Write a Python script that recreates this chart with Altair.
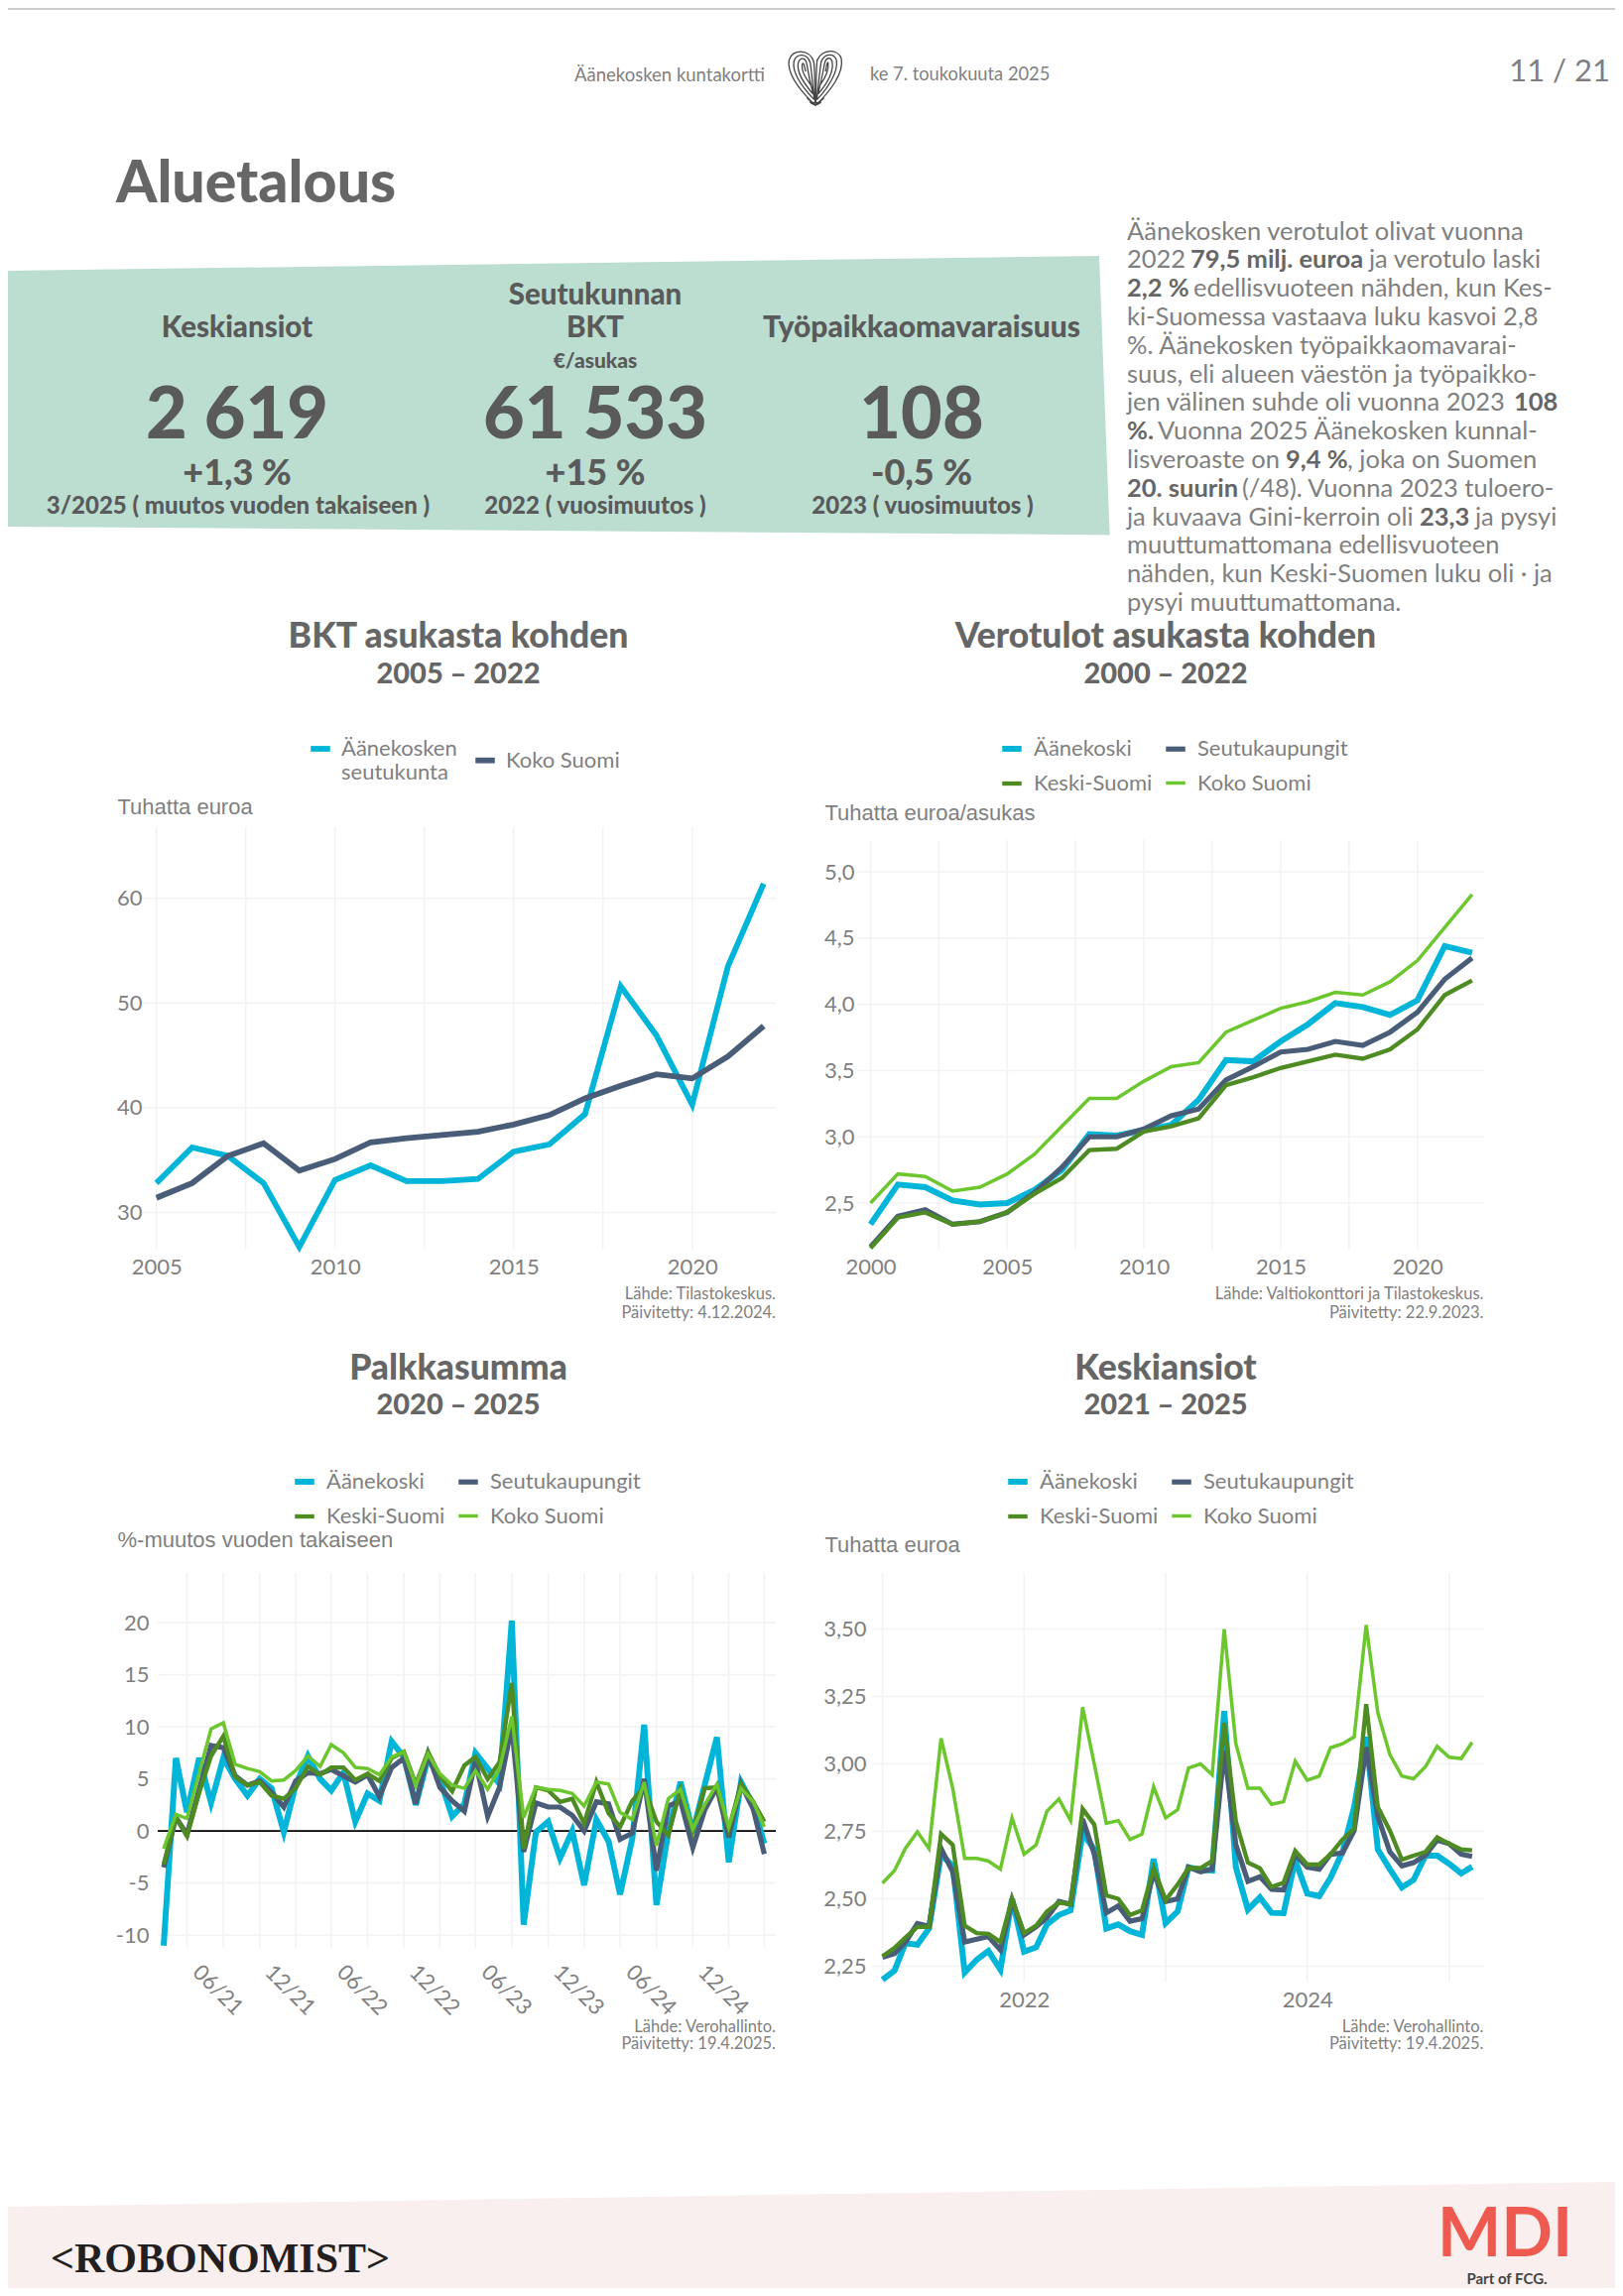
import altair as alt
import pandas as pd

CY, NV, DG, LG = "#00B5D8", "#4A5D78", "#4E8B23", "#6CC72E"
SER = ["Äänekoski", "Seutukaupungit", "Keski-Suomi", "Koko Suomi"]
COLS = [CY, NV, DG, LG]
WID = [6, 3.5, 3, 3]
AX = "#7f7f7f"; DK = "#666666"; GRID = "#F3F3F3"
F = "Lato"

# BKT asukasta kohden
y1 = list(range(2005, 2023))
b_a = [32.8,36.2,35.4,32.8,26.7,33.1,34.5,33.0,33.0,33.2,35.8,36.5,39.4,51.6,46.9,40.3,53.5,61.4]
b_k = [31.4,32.8,35.4,36.6,34.0,35.1,36.7,37.1,37.4,37.7,38.4,39.3,40.9,42.1,43.2,42.8,44.9,47.8]

# Verotulot asukasta kohden
y2 = list(range(2000, 2023))
v_a = [2.34,2.64,2.62,2.52,2.49,2.50,2.60,2.75,3.02,3.01,3.05,3.09,3.28,3.58,3.57,3.72,3.85,4.01,3.98,3.92,4.03,4.44,4.39]
v_s = [2.17,2.40,2.45,2.34,2.36,2.43,2.58,2.77,3.00,3.00,3.06,3.16,3.21,3.43,3.53,3.64,3.66,3.72,3.69,3.79,3.94,4.19,4.35]
v_d = [2.16,2.39,2.43,2.34,2.36,2.43,2.57,2.69,2.90,2.91,3.04,3.08,3.14,3.39,3.45,3.52,3.57,3.62,3.59,3.66,3.81,4.07,4.18]
v_l = [2.50,2.72,2.70,2.59,2.62,2.72,2.87,3.08,3.29,3.29,3.42,3.53,3.56,3.79,3.88,3.97,4.02,4.09,4.07,4.17,4.33,4.58,4.83]

# Kuukaudet 1/2021 - 3/2025
months = [f"{2021 + i // 12}-{i % 12 + 1:02d}-01" for i in range(51)]

# Palkkasumma
p_a = [-11,7.0,1.8,7.0,2.7,7.0,5.0,3.4,5.0,4.1,-0.1,4.4,7.2,5.0,3.9,5.6,0.9,3.6,2.9,8.6,7.1,2.5,7.0,5.0,1.4,2.6,7.5,6.0,4.5,20.2,-9.0,-0.1,0.9,-2.6,0.0,-5.2,1.1,-1.0,-6.1,-0.7,10.2,-7.1,-0.1,4.7,-0.1,4.4,9.0,-3.0,4.7,2.5,-1.2]
p_s = [-3.5,1.3,-0.3,4.0,8.2,8.0,5.3,4.4,4.8,3.7,2.3,4.8,5.6,5.5,5.9,5.3,4.7,5.4,3.3,6.1,7.0,2.6,7.4,4.2,2.9,1.9,6.7,1.4,4.2,10.1,-2.0,2.7,2.3,2.3,1.5,0.0,2.8,2.6,-0.8,-0.2,5.0,-3.8,2.4,2.9,-1.6,2.0,4.2,-0.6,4.5,2.1,-2.2]
p_d = [-3.2,1.3,-0.5,3.7,7.2,9.1,5.2,4.4,4.7,3.4,3.1,4.1,6.2,5.4,6.1,6.1,4.9,5.5,4.8,7.0,7.6,4.5,7.6,5.3,3.8,6.3,7.1,5.0,6.6,14.2,-1.7,4.2,3.9,2.8,3.1,0.7,4.7,1.7,0.4,2.9,4.2,0.9,-0.4,4.0,0.0,4.1,4.2,0.2,4.5,2.8,0.9]
p_l = [-1.7,1.6,1.2,5.6,9.8,10.4,6.4,6.0,5.7,4.8,4.9,5.8,7.2,6.2,8.3,7.5,6.1,6.0,5.4,7.1,7.6,4.4,7.4,5.5,4.4,4.1,5.8,4.0,6.0,11.0,1.3,4.2,4.0,3.9,3.6,2.4,4.7,4.5,1.8,1.1,4.7,-1.4,3.1,4.0,0.2,2.5,4.5,0.4,4.1,2.8,0.4]

# Keskiansiot
k_a = [2.20,2.234,2.335,2.33,2.39,2.665,2.622,2.227,2.274,2.307,2.238,2.50,2.304,2.32,2.405,2.44,2.457,2.744,2.683,2.39,2.405,2.38,2.366,2.648,2.41,2.453,2.617,2.608,2.605,3.196,2.617,2.46,2.505,2.448,2.447,2.643,2.52,2.51,2.578,2.674,2.84,3.10,2.683,2.61,2.542,2.57,2.66,2.66,2.63,2.594,2.619]
k_s = [2.283,2.297,2.339,2.408,2.398,2.687,2.60,2.34,2.35,2.36,2.31,2.495,2.366,2.396,2.43,2.49,2.48,2.796,2.666,2.448,2.474,2.417,2.426,2.596,2.49,2.50,2.617,2.60,2.61,3.05,2.70,2.565,2.582,2.535,2.533,2.665,2.617,2.61,2.665,2.67,2.753,3.062,2.805,2.674,2.622,2.634,2.662,2.718,2.704,2.665,2.657]
k_d = [2.287,2.318,2.356,2.396,2.396,2.74,2.70,2.40,2.373,2.37,2.34,2.50,2.373,2.40,2.453,2.486,2.48,2.833,2.775,2.513,2.50,2.44,2.457,2.614,2.495,2.553,2.614,2.614,2.64,3.153,2.787,2.634,2.613,2.544,2.56,2.678,2.627,2.627,2.665,2.72,2.76,3.222,2.84,2.753,2.645,2.66,2.674,2.728,2.704,2.683,2.68]
k_l = [2.558,2.605,2.687,2.748,2.686,3.095,2.91,2.65,2.65,2.64,2.61,2.80,2.665,2.70,2.825,2.87,2.79,3.21,3.0,2.78,2.79,2.72,2.74,2.915,2.80,2.83,2.985,3.0,2.96,3.50,3.075,2.91,2.91,2.85,2.86,3.01,2.94,2.955,3.06,3.075,3.10,3.515,3.19,3.035,2.955,2.945,2.99,3.065,3.025,3.02,3.08]

# Ruudukot ja akselit
grid1_x = [2005, 2007.5, 2010, 2012.5, 2015, 2017.5, 2020]
grid1_y = [30, 40, 50, 60]
grid2_x = [2000, 2002.5, 2005, 2007.5, 2010, 2012.5, 2015, 2017.5, 2020]
grid2_y = [2.5, 3.0, 3.5, 4.0, 4.5, 5.0]
grid3_x = [f"{2021 + (2 + 3 * i) // 12}-{(2 + 3 * i) % 12 + 1:02d}-01" for i in range(17)]
grid3_y = [-10, -5, 0, 5, 10, 15, 20]
grid4_x = ["2021-01-01", "2022-01-01", "2023-01-01", "2024-01-01", "2025-01-01"]
grid4_y = [2.25, 2.50, 2.75, 3.00, 3.25, 3.50]
DT = lambda y, m, d=1: alt.DateTime(year=y, month=m, date=d)
ticks3 = [DT(2021,6),DT(2021,12),DT(2022,6),DT(2022,12),DT(2023,6),DT(2023,12),DT(2024,6),DT(2024,12)]
ticks4 = [DT(2022,1),DT(2024,1)]

OX, OY = 144, 834


def T(text, x, y, size, color=AX, weight="normal", align="left", font=F):
    return alt.Chart(alt.Data(values=[{"t": text}])).mark_text(
        font=font, fontSize=size, color=color, fontWeight=weight, align=align, baseline="middle"
    ).encode(text="t:N", x=alt.value(x - OX), y=alt.value(y - OY))


def poly(xs, ys, y2s, color):
    d = pd.DataFrame({"px": [v - OX for v in xs], "py": [v - OY for v in ys], "py2": [v - OY for v in y2s]})
    return alt.Chart(d).mark_area(color=color, opacity=1, interpolate="linear").encode(
        x=alt.X("px:Q", scale=None, axis=None),
        y=alt.Y("py:Q", scale=None, axis=None),
        y2=alt.Y2("py2:Q"),
    )


def long(x, series, names=SER):
    return pd.concat([pd.DataFrame({"x": x, "v": s, "s": n}) for s, n in zip(series, names)], ignore_index=True)


def panel(df, xtype, xscale, yscale, xaxis, yaxis, gx, gy, left, w, top, h, names, cols, wid, legend, zero=None):
    X = alt.X(f"x:{xtype}", scale=xscale, axis=xaxis, title=None)
    Y = alt.Y("v:Q", scale=yscale, axis=yaxis, title=None)
    gv = alt.Chart(pd.DataFrame({"x": gx})).mark_rule(color=GRID, strokeWidth=1.6).encode(
        x=X, y=alt.value(top), y2=alt.value(h))
    gh = alt.Chart(pd.DataFrame({"v": gy})).mark_rule(color=GRID, strokeWidth=1.6).encode(
        y=Y, x=alt.value(left), x2=alt.value(w))
    line = alt.Chart(df).mark_line(strokeJoin="miter").encode(
        x=X, y=Y,
        color=alt.Color("s:N", scale=alt.Scale(domain=names, range=cols), legend=legend, sort=names),
        strokeWidth=alt.StrokeWidth("s:N", scale=alt.Scale(domain=names, range=wid), legend=None),
    )
    layers = [gv, gh]
    if zero is not None:
        layers.append(alt.Chart(pd.DataFrame({"v": zero})).mark_rule(color="#000000", strokeWidth=1.6).encode(
            y=Y, x=alt.value(left), x2=alt.value(w)))
    return layers + [line]


def axis_y(expr, vals, pad):
    return alt.Axis(values=vals, grid=False, domain=False, ticks=False, labelExpr=expr, labelFont=F,
                    labelFontSize=22, labelColor=AX, labelPadding=pad, title=None)


def axis_x(vals, pad, **kw):
    return alt.Axis(values=vals, grid=False, domain=False, ticks=False, labelFont=F, labelFontSize=22,
                    labelColor=AX, labelPadding=pad, title=None, labelOverlap=False, **kw)


def leg(x, y, **kw):
    args = dict(title=None, orient="none", legendX=x, legendY=y, direction="horizontal", columns=2,
                symbolType="stroke", symbolSize=380, symbolStrokeWidth=5, labelFont=F, labelFontSize=22,
                labelColor=AX, labelOffset=9, rowPadding=11, columnPadding=2, padding=0, labelLimit=300)
    args.update(kw)
    return alt.Legend(**args)


# ---- page decoration, placed in page coordinates ----
green_x = [8, 1108, 1118.6]
green_top = [273, 258, 539.6]
green_bot = [531, 539.3, 539.6]
foot_x = [8, 1628]
foot_top = [2225, 2200]
foot_bot = [2307, 2307]
top_x = [8, 1628]
top_t = [8, 8]
top_b = [10, 10]

BK = "#5a5a5a"
page = [
    poly(top_x, top_t, top_b, "#CCCCCC"),
    poly(green_x, green_top, green_bot, "#BBDED1"),
    poly(foot_x, foot_top, foot_bot, "#F9EFEE"),
    T("Äänekosken kuntakortti", 579, 76, 18.5),
    T("ke 7. toukokuuta 2025", 877, 76, 18.3),
    T("11 / 21", 1623, 73, 31, align="right"),
    T("Aluetalous", 117, 186, 59, DK, 900),
    T("Keskiansiot", 239, 331, 29.5, BK, 900, "center"),
    T("Seutukunnan", 600, 298, 29.5, BK, 900, "center"),
    T("BKT", 600, 331, 29.5, BK, 900, "center"),
    T("€/asukas", 600, 365, 21, BK, 900, "center"),
    T("Työpaikkaomavaraisuus", 929, 331, 30, BK, 900, "center"),
    T("2 619", 239, 420, 72, BK, 900, "center"),
    T("61 533", 600, 420, 72, BK, 900, "center"),
    T("108", 929, 420, 72, BK, 900, "center"),
    T("+1,3 %", 239, 478, 36, BK, 900, "center"),
    T("+15 %", 600, 478, 36, BK, 900, "center"),
    T("-0,5 %", 929, 478, 36, BK, 900, "center"),
    T("3/2025 ( muutos vuoden takaiseen )", 240, 511, 24, BK, 900, "center"),
    T("2022 ( vuosimuutos )", 600, 511, 24, BK, 900, "center"),
    T("2023 ( vuosimuutos )", 930, 511, 24, BK, 900, "center"),
]
PX = 1136
para = [
    [(PX, "Äänekosken verotulot olivat vuonna", 0)],
    [(PX, "2022", 0), (1200, "79,5 milj. euroa", 1), (1380, "ja verotulo laski", 0)],
    [(PX, "2,2 %", 1), (1203, "edellisvuoteen nähden, kun Kes-", 0)],
    [(PX, "ki-Suomessa vastaava luku kasvoi 2,8", 0)],
    [(PX, "%. Äänekosken työpaikkaomavarai-", 0)],
    [(PX, "suus, eli alueen väestön ja työpaikko-", 0)],
    [(PX, "jen välinen suhde oli vuonna 2023", 0), (1526, "108", 1)],
    [(PX, "%.", 1), (1167, "Vuonna 2025 Äänekosken kunnal-", 0)],
    [(PX, "lisveroaste on", 0), (1296, "9,4 %", 1), (1358, ", joka on Suomen", 0)],
    [(PX, "20. suurin", 1), (1252, "(/48). Vuonna 2023 tuloero-", 0)],
    [(PX, "ja kuvaava Gini-kerroin oli", 0), (1431, "23,3", 1), (1487, "ja pysyi", 0)],
    [(PX, "muuttumattomana edellisvuoteen", 0)],
    [(PX, "nähden, kun Keski-Suomen luku oli · ja", 0)],
    [(PX, "pysyi muuttumattomana.", 0)],
]
for i, runs in enumerate(para):
    for x, s, b in runs:
        page.append(T(s, x, 233.5 + 28.8 * i, 25.5, DK if b else AX, "bold" if b else "normal"))

LIB = "Liberation Sans"
CAP = 16.5
page += [
    T("BKT asukasta kohden", 462, 642, 35.5, DK, 900, "center"),
    T("2005 – 2022", 462, 680, 29, DK, 900, "center"),
    T("Verotulot asukasta kohden", 1175, 642, 35.5, DK, 900, "center"),
    T("2000 – 2022", 1175, 680, 29, DK, 900, "center"),
    T("Palkkasumma", 462, 1380, 35.5, DK, 900, "center"),
    T("2020 – 2025", 462, 1417, 29, DK, 900, "center"),
    T("Keskiansiot", 1175, 1380, 35.5, DK, 900, "center"),
    T("2021 – 2025", 1175, 1417, 29, DK, 900, "center"),
    T("Tuhatta euroa", 118.5, 814, 22, AX, font=LIB),
    T("Tuhatta euroa/asukas", 831.5, 820, 22, AX, font=LIB),
    T("%-muutos vuoden takaiseen", 118.5, 1553, 22, AX, font=LIB),
    T("Tuhatta euroa", 831.5, 1558, 22, AX, font=LIB),
    T("Lähde: Tilastokeskus.", 782, 1305, CAP, align="right"),
    T("Päivitetty: 4.12.2024.", 782, 1323.5, CAP, align="right"),
    T("Lähde: Valtiokonttori ja Tilastokeskus.", 1495.5, 1305, CAP, align="right"),
    T("Päivitetty: 22.9.2023.", 1495.5, 1323.5, CAP, align="right"),
    T("Lähde: Verohallinto.", 782, 2044, CAP, align="right"),
    T("Päivitetty: 19.4.2025.", 782, 2061, CAP, align="right"),
    T("Lähde: Verohallinto.", 1495.5, 2044, CAP, align="right"),
    T("Päivitetty: 19.4.2025.", 1495.5, 2061, CAP, align="right"),
    T("<ROBONOMIST>", 222, 2278, 42, "#231F20", "bold", "center", "Liberation Serif"),
    T("MDI", 1517, 2255, 68, "#EE5A50", "bold", "center"),
    T("Part of FCG.", 1519, 2298, 15, "#444444", "bold", "center"),
]
# sormenjälki
FP = ("M0,0.98 C-0.5,0.5 -1,-0.1 -0.92,-0.6 C-0.82,-1 -0.2,-1 -0.06,-0.55 C0,-0.2 -0.05,0.5 0,0.98 "
      "M-0.04,0.78 C-0.45,0.35 -0.82,-0.15 -0.75,-0.55 C-0.66,-0.85 -0.28,-0.85 -0.18,-0.5 C-0.13,-0.2 -0.1,0.3 -0.04,0.78 "
      "M-0.08,0.58 C-0.4,0.22 -0.66,-0.18 -0.6,-0.5 C-0.53,-0.72 -0.34,-0.7 -0.3,-0.45 C-0.26,-0.2 -0.18,0.2 -0.08,0.58 "
      "M-0.14,0.3 C-0.32,0.05 -0.5,-0.2 -0.46,-0.45 C-0.42,-0.56 -0.38,-0.4 -0.34,-0.2 "
      "M0,0.98 C0.5,0.5 1,-0.15 0.9,-0.65 C0.8,-1 0.25,-1 0.06,-0.6 C0,-0.2 0.05,0.5 0,0.98 "
      "M0.05,0.78 C0.45,0.35 0.8,-0.2 0.73,-0.6 C0.65,-0.85 0.32,-0.85 0.2,-0.55 C0.14,-0.2 0.1,0.3 0.05,0.78 "
      "M0.09,0.58 C0.4,0.22 0.64,-0.22 0.58,-0.55 C0.52,-0.72 0.38,-0.7 0.32,-0.5 C0.27,-0.2 0.18,0.2 0.09,0.58 "
      "M0.14,0.3 C0.32,0.05 0.48,-0.25 0.44,-0.5 C0.42,-0.58 0.38,-0.4 0.35,-0.2 "
      "M-0.2,0.85 C-0.1,0.98 0.1,0.98 0.2,0.85 M-0.3,0.7 C-0.1,0.95 0.1,0.95 0.3,0.7")
page.append(
    alt.Chart(alt.Data(values=[{"a": 1}])).mark_point(
        shape=FP, size=3364, filled=False, stroke="#444444", strokeWidth=1.3, opacity=1
    ).encode(x=alt.value(822 - OX), y=alt.value(78 - OY))
)

# ---- panels ----
YE = "''+datum.value"
C1 = "replace(format(datum.value,'.1f'),'.',',')"
C2 = "replace(format(datum.value,'.2f'),'.',',')"

p1 = panel(long(y1, [b_a, b_k], ["Äänekosken seutukunta", "Koko Suomi"]), "Q",
           alt.Scale(domain=[2004.62, 2022.34], nice=False, zero=False),
           alt.Scale(domain=[26.54, 66.8], nice=False, zero=False),
           axis_x([2005, 2010, 2015, 2020], 8, labelExpr=YE),
           axis_y(YE, grid1_y, 1), grid1_x, grid1_y, 0, 638, 0, 425,
           ["Äänekosken seutukunta", "Koko Suomi"], [CY, NV], [5.8, 5.8],
           leg(166, -92, labelOffset=8, columnPadding=6,
               labelExpr="split(replace(datum.label,'n s','n|s'),'|')"))
c1 = alt.layer(*(page + p1)).properties(width=638, height=425)

p2 = panel(long(y2, [v_a, v_s, v_d, v_l]), "Q",
           alt.Scale(domain=[1999.51, 2022.44], nice=False, zero=False),
           alt.Scale(domain=[2.156, 5.24], nice=False, zero=False, range=[425, 13]),
           axis_x([2000, 2005, 2010, 2015, 2020], 8, labelExpr=YE),
           axis_y(C1, grid2_y, 3), grid2_x, grid2_y, 0, 632, 13, 425,
           SER, COLS, WID, leg(143, -92))
c2 = alt.layer(*p2).properties(width=632, height=425)

p3 = panel(long(months, [p_a, p_s, p_d, p_l]), "T",
           alt.Scale(domain=[DT(2020,12,17), DT(2025,3,30)], range=[15, 638], nice=False),
           alt.Scale(domain=[-11.22, 24.77], nice=False, zero=False),
           axis_x(ticks3, 42, format="%m/%y", labelAngle=45, labelAlign="center", labelBaseline="middle", labelOffset=-6),
           axis_y(YE, grid3_y, -6), grid3_x, grid3_y, 15, 638, 0, 378,
           SER, COLS, WID, leg(150, -105), zero=[0])
c3 = alt.layer(*p3).properties(width=638, height=378)

p4 = panel(long(months, [k_a, k_s, k_d, k_l]), "T",
           alt.Scale(domain=[DT(2020,12,5), DT(2025,4,1)], range=[15, 632], nice=False),
           alt.Scale(domain=[2.193, 3.708], nice=False, zero=False),
           axis_x(ticks4, 8, format="%Y"),
           axis_y(C2, grid4_y, -9), grid4_x, grid4_y, 15, 632, 0, 412,
           SER, COLS, WID, leg(149, -105))
c4 = alt.layer(*p4).properties(width=632, height=412)

chart = alt.concat(c1, c2, c3, c4, columns=2, spacing={"row": 327, "column": 82}, bounds="flush").resolve_scale(
    color="independent", strokeWidth="independent"
).properties(padding=0, background="white").configure_view(stroke=None)

chart.save("out.html", embed_options={"renderer": "svg", "actions": False})
